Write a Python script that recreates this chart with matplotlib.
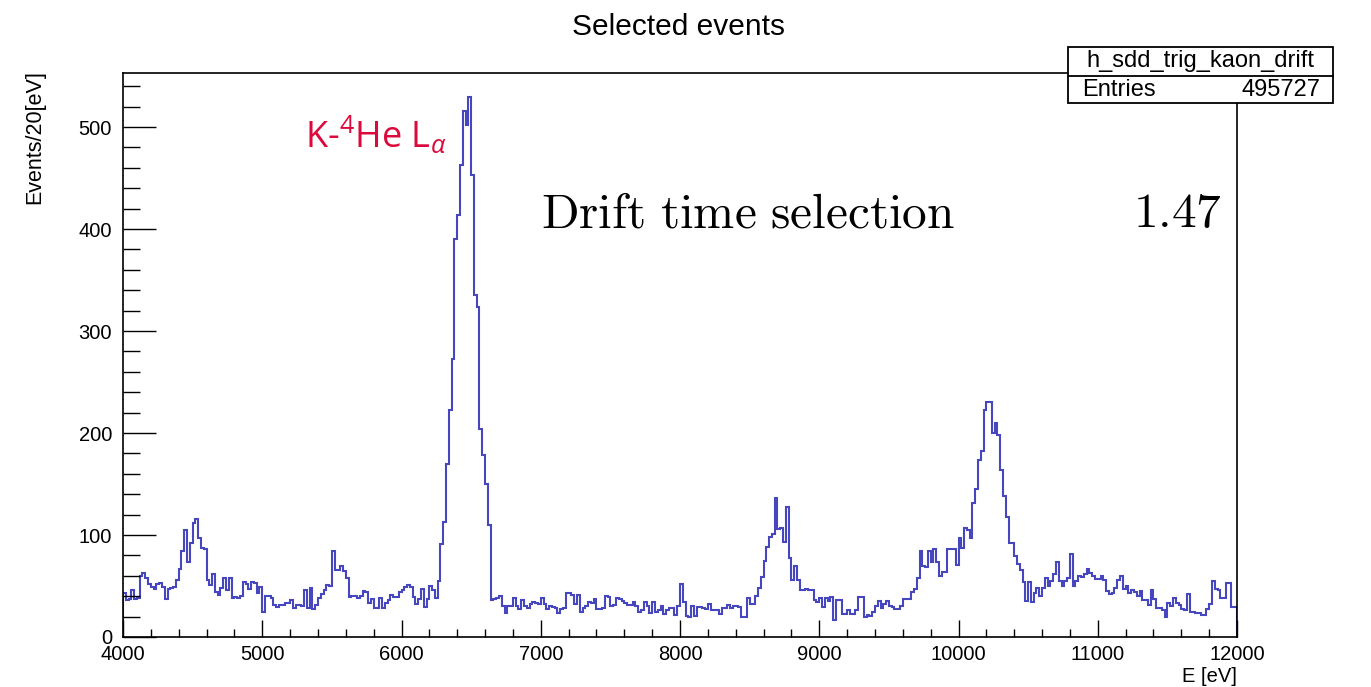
import numpy as np
import matplotlib
matplotlib.use("Agg")
import matplotlib.pyplot as plt
from matplotlib.ticker import MultipleLocator
from matplotlib.patches import Rectangle
from matplotlib.lines import Line2D

plt.rcParams["font.family"] = ["Liberation Sans", "DejaVu Sans"]

# Histogram binning (eV)
e_min, e_max, bin_width = 4000, 12000, 20

# Counts per 20 eV bin, ten bins (200 eV) per row
counts = [
    43, 36, 37, 46, 37, 38, 60, 63, 58, 52,
    49, 47, 52, 53, 49, 37, 47, 48, 49, 56,
    67, 84, 105, 74, 92, 112, 116, 97, 87, 86,
    56, 51, 62, 44, 41, 48, 58, 46, 58, 38,
    39, 38, 40, 54, 52, 47, 54, 53, 43, 49,
    25, 40, 40, 38, 31, 29, 31, 31, 33, 33,
    36, 28, 31, 31, 30, 46, 28, 48, 27, 31,
    38, 42, 46, 51, 50, 84, 66, 66, 70, 65,
    58, 39, 40, 40, 38, 40, 45, 44, 33, 37,
    28, 28, 38, 28, 33, 36, 41, 39, 39, 44,
    46, 49, 51, 49, 39, 32, 37, 47, 29, 37,
    50, 46, 38, 55, 91, 113, 170, 223, 273, 390,
    414, 463, 516, 502, 529, 453, 335, 324, 204, 178,
    150, 110, 36, 37, 38, 40, 30, 24, 30, 30,
    38, 30, 27, 36, 30, 28, 32, 34, 33, 32,
    38, 32, 27, 30, 29, 28, 24, 27, 28, 43,
    43, 41, 32, 41, 25, 28, 30, 34, 33, 37,
    27, 27, 28, 40, 39, 30, 31, 38, 37, 35,
    33, 31, 31, 34, 30, 25, 26, 34, 30, 24,
    34, 25, 26, 30, 23, 26, 28, 28, 22, 30,
    52, 34, 21, 20, 30, 21, 29, 29, 28, 27,
    32, 26, 26, 26, 23, 28, 28, 31, 28, 30,
    30, 29, 20, 20, 38, 32, 32, 40, 48, 59,
    75, 88, 98, 101, 136, 106, 107, 93, 127, 77,
    56, 70, 56, 46, 46, 47, 46, 46, 36, 34,
    38, 29, 38, 35, 39, 17, 36, 36, 23, 23,
    26, 23, 23, 26, 39, 39, 20, 22, 21, 25,
    30, 35, 28, 32, 35, 30, 29, 27, 27, 30,
    37, 37, 37, 44, 47, 58, 84, 70, 69, 84,
    74, 86, 74, 60, 64, 64, 86, 86, 86, 71,
    97, 87, 107, 105, 97, 131, 145, 174, 182, 223,
    230, 230, 200, 210, 198, 164, 138, 118, 92, 92,
    79, 72, 66, 54, 35, 54, 34, 43, 48, 40,
    48, 58, 50, 55, 62, 74, 55, 50, 55, 58,
    81, 50, 55, 60, 59, 62, 67, 63, 60, 57,
    57, 60, 56, 45, 42, 43, 48, 56, 60, 47,
    50, 43, 46, 44, 40, 45, 36, 36, 31, 46,
    37, 28, 28, 26, 20, 33, 30, 38, 33, 31,
    27, 26, 42, 25, 25, 24, 24, 22, 22, 27,
    32, 55, 47, 46, 38, 38, 53, 53, 29, 29,
]
edges = np.arange(e_min, e_max + bin_width, bin_width)

hist_name = "h_sdd_trig_kaon_drift"
n_entries = 495727
title = "Selected events"
x_title = "E [eV]"
y_title = "Events/20[eV]"
peak_label = r"K-$^{4}$He L$_{\alpha}$"
selection_label = r"$\mathrm{Drift\ time\ selection}$"
selection_value = r"$\mathrm{1.47}$"

W, H = 1371, 687
fig = plt.figure(figsize=(W / 100, H / 100), dpi=100)
fig.patch.set_facecolor("white")

def fx(px):
    return px / W

def fy(py):
    return 1 - py / H

ax = fig.add_axes([fx(123), fy(637), (1237 - 123) / W, (637 - 73) / H])
ax.stairs(counts, edges, color="#4646bf", lw=1.5)

ax.set_xlim(e_min, e_max)
ax.set_ylim(0, 553)
ax.xaxis.set_major_locator(MultipleLocator(1000))
ax.xaxis.set_minor_locator(MultipleLocator(200))
ax.yaxis.set_major_locator(MultipleLocator(100))
ax.yaxis.set_minor_locator(MultipleLocator(20))
ax.tick_params(which="both", direction="in", top=False, right=False,
               labelsize=14.5, width=1.0, color="black")
ax.tick_params(axis="y", which="major", length=24, pad=8)
ax.tick_params(axis="y", which="minor", length=12)
ax.tick_params(axis="x", which="major", length=12.5, pad=6)
ax.tick_params(axis="x", which="minor", length=6)
for s in ax.spines.values():
    s.set_linewidth(1.2)

fig.text(fx(678), fy(27), title, ha="center", va="center", fontsize=21.5)
fig.text(fx(1237), fy(676), x_title, ha="right", va="center", fontsize=14.5)
fig.text(fx(35), fy(70), y_title, ha="center", va="top", rotation=90, fontsize=15.5)

# Statistics box
x0, x1 = fx(1068), fx(1333)
y_top, y_mid, y_bot = fy(47), fy(76), fy(103)
box = Rectangle((x0, y_bot), x1 - x0, y_top - y_bot, transform=fig.transFigure,
                facecolor="white", edgecolor="black", lw=1.3, zorder=5)
fig.add_artist(box)
fig.add_artist(Line2D([x0, x1], [y_mid, y_mid], transform=fig.transFigure,
                      color="black", lw=1.3, zorder=6))
fig.text((x0 + x1) / 2, (y_top + y_mid) / 2, hist_name, ha="center", va="center",
         fontsize=17, zorder=7)
fig.text(fx(1082), (y_mid + y_bot) / 2, "Entries", ha="left", va="center",
         fontsize=17, zorder=7)
fig.text(fx(1320), (y_mid + y_bot) / 2, f"{n_entries}", ha="right", va="center",
         fontsize=17, zorder=7)

# Annotations
plt.rcParams["mathtext.fontset"] = "custom"
plt.rcParams["mathtext.rm"] = "Open Sans"
plt.rcParams["mathtext.it"] = "Open Sans:italic"
fig.text(fx(305), fy(148), peak_label, ha="left", va="baseline",
         fontsize=26, color="#dc0a3c", family="Open Sans")
fig.text(fx(541), fy(227), selection_label, ha="left", va="baseline",
         fontsize=35.5, math_fontfamily="cm")
fig.text(fx(1222), fy(227), selection_value, ha="right", va="baseline",
         fontsize=35.5, math_fontfamily="cm")

fig.savefig("out.png", dpi=100, facecolor="white")
